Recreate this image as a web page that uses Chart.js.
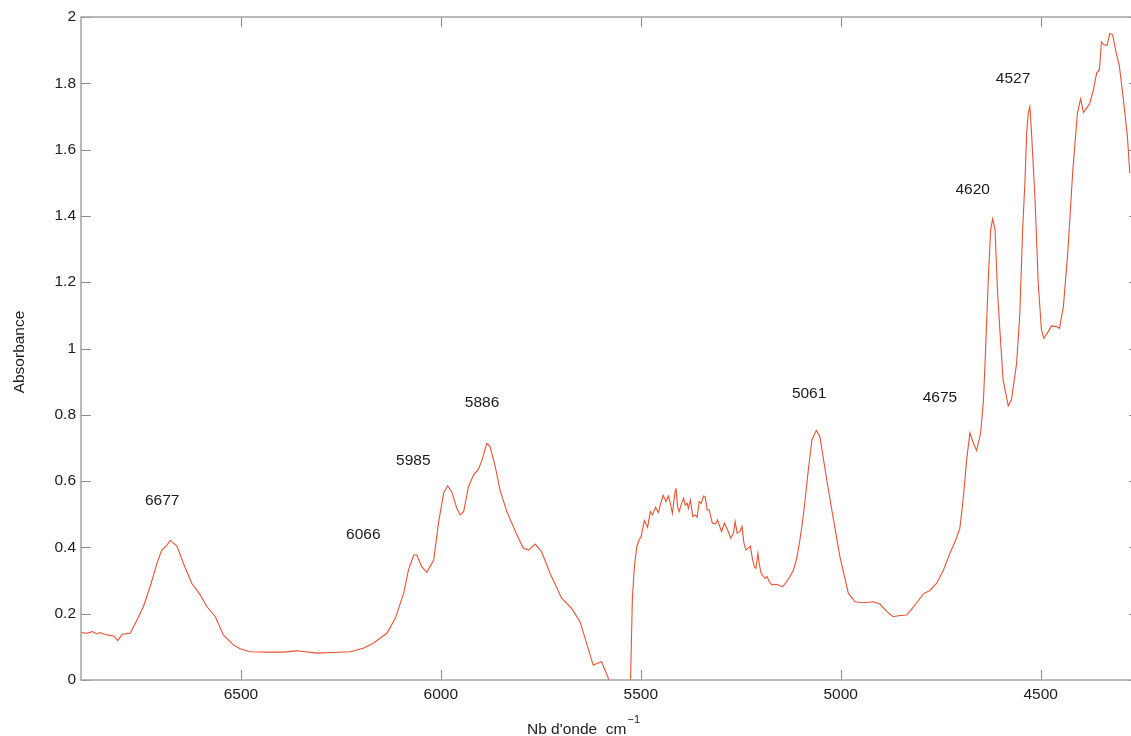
<!DOCTYPE html>
<html>
<head>
<meta charset="utf-8">
<script src="https://cdn.jsdelivr.net/npm/chart.js@4.4.1/dist/chart.umd.min.js"></script>
<style>
  html, body { margin: 0; padding: 0; background: #fff; overflow: hidden; }
  #wrap { width: 1150px; height: 736px; position: relative; }
</style>
</head>
<body>
<div id="wrap"><canvas id="spectrum"></canvas></div>
<script>
// NIR absorbance spectrum, wavenumber in cm-1 (axis runs high -> low)
const wavenumbers = [
  6899, 6885, 6872, 6860, 6852, 6835, 6818, 6808, 6797, 6777,
  6760, 6744, 6727, 6710, 6698, 6685, 6677, 6660, 6644, 6623,
  6602, 6585, 6564, 6544, 6519, 6502, 6477, 6435, 6394, 6360,
  6310, 6268, 6227, 6194, 6169, 6152, 6135, 6114, 6093, 6081,
  6068, 6060, 6048, 6035, 6018, 6006, 5993, 5983, 5973, 5960,
  5952, 5943, 5931, 5918, 5906, 5897, 5885, 5877, 5864, 5852,
  5835, 5810, 5794, 5781, 5764, 5748, 5727, 5698, 5673, 5652,
  5619, 5598, 5581, 5572, 5532, 5526, 5521, 5516, 5510, 5504,
  5499, 5496, 5491, 5483, 5476, 5471, 5463, 5456, 5450, 5444,
  5437, 5431, 5426, 5421, 5414, 5412, 5408, 5404, 5398, 5393,
  5389, 5384, 5381, 5376, 5370, 5364, 5359, 5354, 5349, 5343,
  5339, 5334, 5329, 5321, 5313, 5308, 5303, 5298, 5291, 5283,
  5275, 5268, 5264, 5259, 5252, 5247, 5242, 5237, 5231, 5226,
  5221, 5216, 5212, 5207, 5204, 5199, 5193, 5189, 5184, 5179,
  5172, 5160, 5152, 5145, 5135, 5127, 5118, 5110, 5102, 5096,
  5089, 5081, 5072, 5061, 5052, 5035, 5018, 5002, 4981, 4964,
  4944, 4918, 4902, 4885, 4869, 4856, 4835, 4823, 4810, 4793,
  4777, 4760, 4743, 4727, 4712, 4702, 4694, 4689, 4685, 4677,
  4668, 4660, 4650, 4643, 4639, 4631, 4625, 4620, 4614, 4608,
  4602, 4594, 4581, 4573, 4560, 4552, 4545, 4539, 4535, 4531,
  4527, 4523, 4514, 4506, 4498, 4492, 4481, 4473, 4460, 4453,
  4443, 4431, 4420, 4408, 4400, 4393, 4385, 4377, 4368, 4360,
  4353, 4348, 4342, 4334, 4327, 4320, 4311, 4303, 4293, 4283,
  4277
];
const absorbance = [
  0.143, 0.141, 0.146, 0.139, 0.143, 0.136, 0.133, 0.119, 0.138, 0.141,
  0.181, 0.221, 0.282, 0.352, 0.392, 0.407, 0.421, 0.404, 0.352, 0.292,
  0.257, 0.221, 0.191, 0.136, 0.106, 0.094, 0.085, 0.084, 0.084, 0.088,
  0.081, 0.083, 0.085, 0.096, 0.111, 0.126, 0.141, 0.186, 0.262, 0.332,
  0.377, 0.377, 0.342, 0.325, 0.362, 0.473, 0.564, 0.586, 0.568, 0.518,
  0.498, 0.508, 0.583, 0.619, 0.636, 0.664, 0.714, 0.704, 0.644, 0.573,
  0.508, 0.438, 0.398, 0.392, 0.410, 0.387, 0.322, 0.247, 0.216, 0.176,
  0.045, 0.055, 0.005, -0.100, -0.100, -0.020, 0.247, 0.342, 0.402, 0.423,
  0.433, 0.453, 0.481, 0.461, 0.508, 0.498, 0.521, 0.505, 0.533, 0.557,
  0.538, 0.555, 0.533, 0.503, 0.571, 0.579, 0.523, 0.508, 0.533, 0.548,
  0.528, 0.533, 0.518, 0.543, 0.493, 0.498, 0.491, 0.538, 0.533, 0.555,
  0.553, 0.513, 0.513, 0.473, 0.471, 0.483, 0.465, 0.448, 0.473, 0.453,
  0.428, 0.443, 0.478, 0.443, 0.448, 0.463, 0.413, 0.392, 0.398, 0.404,
  0.367, 0.342, 0.337, 0.382, 0.352, 0.322, 0.312, 0.307, 0.312, 0.297,
  0.287, 0.289, 0.284, 0.282, 0.297, 0.312, 0.332, 0.367, 0.423, 0.473,
  0.543, 0.634, 0.724, 0.753, 0.734, 0.604, 0.483, 0.372, 0.262, 0.236,
  0.233, 0.236, 0.229, 0.207, 0.191, 0.194, 0.196, 0.213, 0.233, 0.260,
  0.270, 0.292, 0.332, 0.382, 0.423, 0.458, 0.543, 0.609, 0.664, 0.745,
  0.714, 0.692, 0.745, 0.845, 0.956, 1.207, 1.358, 1.391, 1.358, 1.177,
  1.057, 0.906, 0.827, 0.845, 0.956, 1.107, 1.358, 1.509, 1.650, 1.710,
  1.729, 1.655, 1.449, 1.197, 1.056, 1.031, 1.051, 1.068, 1.066, 1.061,
  1.127, 1.308, 1.529, 1.710, 1.753, 1.712, 1.725, 1.740, 1.781, 1.831,
  1.841, 1.925, 1.917, 1.914, 1.950, 1.947, 1.892, 1.851, 1.751, 1.640,
  1.529
];

// axis ticks
const xTickValues = [6500, 6000, 5500, 5000, 4500];
const yTickValues = [0, 0.2, 0.4, 0.6, 0.8, 1, 1.2, 1.4, 1.6, 1.8, 2];

// band assignments written next to the peaks (text anchor in data units)
const peakNames = ['6677', '6066', '5985', '5886', '5061', '4675', '4620', '4527'];
const peakTextX = [6697, 6194, 6069, 5897, 5079, 4752, 4670, 4569];
const peakTextY = [0.541, 0.438, 0.662, 0.836, 0.863, 0.851, 1.479, 1.814];

const FONT = '"Liberation Sans", Arial, Helvetica, sans-serif';
const FONT_SIZE = 15.5;
const LINE_COLOR = 'rgb(232, 82, 52)';
const FRAME_COLOR = '#a3a3a3';
const TICK_COLOR = '#8c8c8c';
const TEXT_COLOR = '#1c1c1c';

// box frame with inward tick marks on all four sides, axis titles and peak labels
const frameAndLabels = {
  id: 'frameAndLabels',
  afterDraw(chart) {
    const { ctx, chartArea: a, scales } = chart;
    const xs = scales.x, ys = scales.y;
    const tickLen = 10;
    ctx.save();

    ctx.strokeStyle = TICK_COLOR;
    ctx.lineWidth = 1;
    ctx.beginPath();
    xTickValues.forEach(v => {
      const px = Math.round(xs.getPixelForValue(v)) + 0.5;
      ctx.moveTo(px, a.bottom); ctx.lineTo(px, a.bottom - tickLen);
      ctx.moveTo(px, a.top); ctx.lineTo(px, a.top + tickLen);
    });
    yTickValues.forEach(v => {
      const py = Math.round(ys.getPixelForValue(v)) + 0.5;
      ctx.moveTo(a.left, py); ctx.lineTo(a.left + tickLen, py);
      ctx.moveTo(a.right, py); ctx.lineTo(a.right - tickLen, py);
    });
    ctx.stroke();

    ctx.strokeStyle = FRAME_COLOR;
    ctx.lineWidth = 1.5;
    ctx.strokeRect(a.left, a.top, a.right - a.left, a.bottom - a.top);

    // peak labels
    ctx.fillStyle = TEXT_COLOR;
    ctx.font = FONT_SIZE + 'px ' + FONT;
    ctx.textAlign = 'center';
    ctx.textBaseline = 'middle';
    peakNames.forEach((t, i) => {
      ctx.fillText(t, xs.getPixelForValue(peakTextX[i]), ys.getPixelForValue(peakTextY[i]));
    });

    // x axis title with superscript unit exponent
    ctx.textAlign = 'left';
    ctx.textBaseline = 'alphabetic';
    ctx.font = FONT_SIZE + 'px ' + FONT;
    const main = "Nb d'onde  cm";
    const sup = '\u22121';
    const wMain = ctx.measureText(main).width;
    ctx.font = '11px ' + FONT;
    const wSup = ctx.measureText(sup).width;
    const cx = 583;
    const x0 = cx - (wMain + wSup) / 2;
    ctx.font = FONT_SIZE + 'px ' + FONT;
    ctx.fillText(main, x0, 734);
    ctx.font = '11px ' + FONT;
    ctx.fillText(sup, x0 + wMain + 1, 723);

    // y axis title
    ctx.save();
    ctx.translate(20, 352);
    ctx.rotate(-Math.PI / 2);
    ctx.font = FONT_SIZE + 'px ' + FONT;
    ctx.textAlign = 'center';
    ctx.textBaseline = 'middle';
    ctx.fillText('Absorbance', 0, 0);
    ctx.restore();

    ctx.restore();
  }
};

new Chart(document.getElementById('spectrum'), {
  type: 'line',
  data: {
    datasets: [{
      data: wavenumbers.map((w, i) => ({ x: w, y: absorbance[i] })),
      borderColor: LINE_COLOR,
      borderWidth: 1.1,
      pointRadius: 0,
      tension: 0,
      fill: false
    }]
  },
  options: {
    responsive: true,
    maintainAspectRatio: false,
    animation: false,
    events: [],
    layout: { padding: { top: 17, right: 11, left: 0, bottom: 0 } },
    plugins: { legend: { display: false }, tooltip: { enabled: false } },
    scales: {
      x: {
        type: 'linear',
        reverse: true,
        min: 4254,
        max: 6900,
        grid: { display: false, drawTicks: false },
        border: { display: false },
        afterBuildTicks: s => { s.ticks = xTickValues.map(v => ({ value: v })); },
        afterFit: s => { s.height = 56; },
        ticks: {
          padding: 5,
          color: TEXT_COLOR,
          font: { family: FONT, size: FONT_SIZE },
          maxRotation: 0,
          callback: v => String(v)
        }
      },
      y: {
        min: 0,
        max: 2,
        grid: { display: false, drawTicks: false },
        border: { display: false },
        afterBuildTicks: s => { s.ticks = yTickValues.map(v => ({ value: v })); },
        afterFit: s => { s.width = 81; },
        ticks: {
          padding: 5,
          color: TEXT_COLOR,
          font: { family: FONT, size: FONT_SIZE },
          callback: v => String(Math.round(v * 10) / 10)
        }
      }
    }
  },
  plugins: [frameAndLabels]
});
</script>
</body>
</html>
